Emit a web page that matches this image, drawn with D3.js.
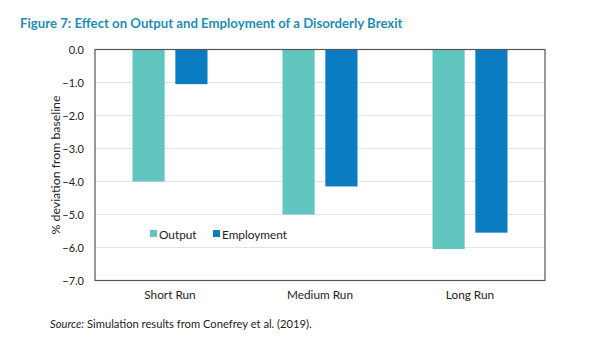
<!DOCTYPE html>
<html>
<head>
<meta charset="utf-8">
<script src="https://cdn.jsdelivr.net/npm/d3@7"></script>
<style>
  body { margin: 0; background: #fff; }
  svg { font-family: Lato, "Open Sans", sans-serif; }
</style>
</head>
<body>
<svg width="614" height="346"></svg>
<script>
// Simulated effects of a disorderly Brexit (% deviation from baseline)
const horizons = ["Short Run", "Medium Run", "Long Run"];
const seriesNames = ["Output", "Employment"];
const outputValues = [-4.0, -5.0, -6.05];
const employmentValues = [-1.05, -4.15, -5.55];
const yTicks = [0, -1, -2, -3, -4, -5, -6, -7];

const colors = { Output: "#62c6c0", Employment: "#0a7cc1" };

const margin = { top: 49.5, right: 69, bottom: 65.5, left: 95 },
    width = 614 - margin.left - margin.right,
    height = 346 - margin.top - margin.bottom;

const svg = d3.select("svg");

svg.append("text")
    .attr("x", 20)
    .attr("y", 28)
    .attr("fill", "#1f8db5")
    .attr("font-size", 13.2)
    .attr("font-weight", "bold")
    .text("Figure 7: Effect on Output and Employment of a Disorderly Brexit");

const g = svg.append("g")
    .attr("transform", "translate(" + margin.left + "," + margin.top + ")");

const x0 = d3.scaleBand().domain(horizons).range([0, width]).paddingInner(0).paddingOuter(0);
const x1 = d3.scaleBand().domain(seriesNames).range([0, x0.bandwidth() * 0.5]).paddingInner(0.25);
const y = d3.scaleLinear().domain([0, -7]).range([0, height]);

// gridlines
g.selectAll(".grid")
    .data(yTicks.slice(1, -1))
  .enter().append("line")
    .attr("x1", 0).attr("x2", width)
    .attr("y1", d => y(d)).attr("y2", d => y(d))
    .attr("stroke", "#e3e3e3")
    .attr("stroke-width", 1.2);

const rows = horizons.map((h, i) => ({ horizon: h, Output: outputValues[i], Employment: employmentValues[i] }));

const group = g.selectAll(".grp")
    .data(rows)
  .enter().append("g")
    .attr("transform", d => "translate(" + (x0(d.horizon) + x0.bandwidth() * 0.25) + ",0)");

group.selectAll("rect")
    .data(d => seriesNames.map(k => ({ key: k, value: d[k] })))
  .enter().append("rect")
    .attr("x", d => x1(d.key))
    .attr("width", x1.bandwidth())
    .attr("y", y(0))
    .attr("height", d => y(d.value) - y(0))
    .attr("fill", d => colors[d.key]);

// frame
g.append("rect")
    .attr("width", width).attr("height", height)
    .attr("fill", "none")
    .attr("stroke", "#555")
    .attr("stroke-width", 1.2);

// y axis labels
const yAxis = d3.axisLeft(y).tickValues(yTicks).tickSize(0).tickPadding(11)
    .tickFormat(d3.format(".1f"));
g.append("g").call(yAxis)
    .call(a => a.select(".domain").remove())
    .selectAll("text")
    .attr("font-family", "Lato, sans-serif")
    .attr("font-size", 11)
    .attr("fill", "#222");

// x axis labels
const xAxis = d3.axisBottom(x0).tickSize(0).tickPadding(10);
g.append("g")
    .attr("transform", "translate(0," + height + ")")
    .call(xAxis)
    .call(a => a.select(".domain").remove())
    .selectAll("text")
    .attr("font-family", "Lato, sans-serif")
    .attr("font-size", 11.8)
    .attr("fill", "#222");

svg.append("text")
    .attr("transform", "translate(60," + (margin.top + height / 2) + ") rotate(-90)")
    .attr("text-anchor", "middle")
    .attr("font-size", 12.3)
    .attr("fill", "#222")
    .text("% deviation from baseline");

// legend
const legend = svg.append("g").attr("transform", "translate(150,234)");
const legendX = [0, 63];
seriesNames.forEach((k, i) => {
    const item = legend.append("g").attr("transform", "translate(" + legendX[i] + ",0)");
    item.append("rect").attr("x", 0).attr("y", -4).attr("width", 7).attr("height", 7).attr("fill", colors[k]);
    item.append("text").attr("x", 9).attr("y", 4.5).attr("font-size", 11.8).attr("fill", "#222").text(k);
});

// source note
const src = svg.append("text")
    .attr("x", 50)
    .attr("y", 328)
    .attr("font-size", 11.2)
    .attr("fill", "#222");
src.append("tspan").attr("font-style", "italic").text("Source:");
src.append("tspan").text(" Simulation results from Conefrey et al. (2019).");
</script>
</body>
</html>
